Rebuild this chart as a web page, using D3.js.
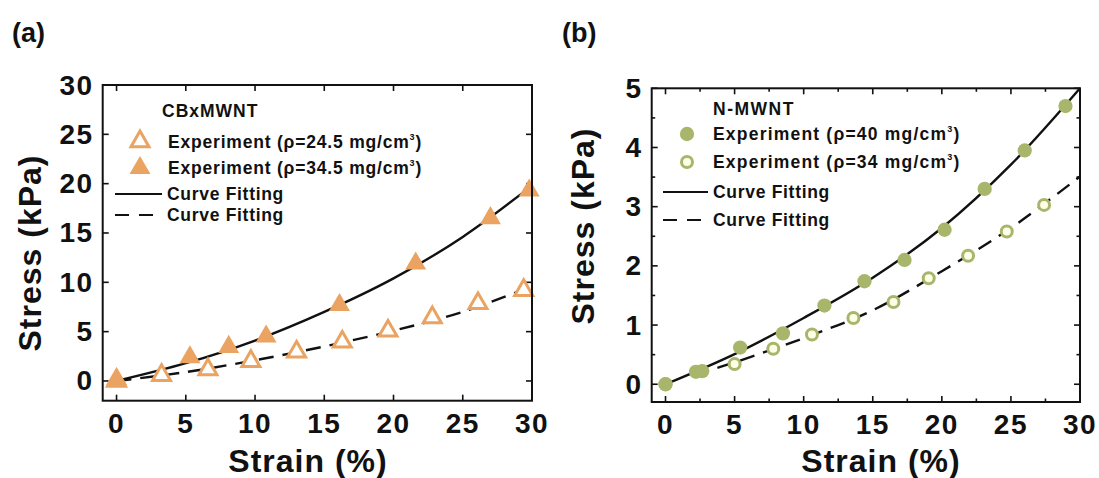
<!DOCTYPE html>
<html>
<head>
<meta charset="utf-8">
<script src="https://cdn.jsdelivr.net/npm/d3@7"></script>
<style>
  body { margin: 0; background: #fff; }
  text { font-family: "Liberation Sans", Arial, sans-serif; font-weight: bold; fill: #111; }
</style>
</head>
<body>
<div id="chart"></div>
<script>
// ---- data ----
// (a) CBxMWNT
var strainA245 = [0, 3.25, 6.6, 9.7, 13.0, 16.3, 19.6, 22.8, 26.1, 29.4];
var stressA245 = [0, 0.58, 1.15, 2.0, 2.95, 3.96, 5.08, 6.44, 7.86, 9.2];
var strainA345 = [0, 5.3, 8.1, 10.8, 16.1, 21.6, 27.0, 29.8];
var stressA345 = [0.2, 2.4, 3.45, 4.5, 7.7, 11.9, 16.5, 19.3];
var fitStrainA = [0, 5, 10, 15, 20, 25, 30];
var fitSolidA = [0, 1.8, 4.1, 7.0, 10.4, 14.6, 19.8];
var fitDashA = [0, 0.9, 2.1, 3.5, 5.1, 7.0, 9.6];

// (b) N-MWNT
var strainB40 = [0, 2.2, 2.65, 5.4, 8.5, 11.5, 14.4, 17.3, 20.2, 23.1, 26.0, 28.95];
var stressB40 = [0, 0.21, 0.22, 0.62, 0.86, 1.33, 1.74, 2.1, 2.61, 3.3, 3.95, 4.7];
var strainB34 = [0, 5.0, 7.8, 10.6, 13.6, 16.5, 19.05, 21.9, 24.7, 27.4];
var stressB34 = [0, 0.34, 0.6, 0.84, 1.12, 1.39, 1.79, 2.17, 2.58, 3.03];
var fitStrainB = [0, 5, 10, 15, 20, 25, 30];
var fitSolidB = [0, 0.51, 1.12, 1.8, 2.64, 3.71, 5.0];
var fitDashStrainB = [2.1, 5, 10, 15, 20, 25, 30];
var fitDashB = [0.16, 0.37, 0.78, 1.25, 1.91, 2.64, 3.51];

var orange = "#eaa361",
    olive = "#a8b66c";

var svg = d3.select("#chart")
    .append("svg")
    .attr("width", 1099)
    .attr("height", 478);

function zip(xs, ys) {
    return xs.map(function(x, i) { return [x, ys[i]]; });
}

function drawPanel(p) {
    var x = d3.scaleLinear().domain(p.xDomain).range([p.left, p.right]);
    var y = d3.scaleLinear().domain(p.yDomain).range([p.bottom, p.top]);
    var g = svg.append("g");

    // ticks on all four sides, pointing inward
    function tickSet(values, len, axis) {
        values.forEach(function(v) {
            if (axis == "x") {
                g.append("line").attr("x1", x(v)).attr("x2", x(v)).attr("y1", p.bottom).attr("y2", p.bottom - len);
                g.append("line").attr("x1", x(v)).attr("x2", x(v)).attr("y1", p.top).attr("y2", p.top + len);
            } else {
                g.append("line").attr("y1", y(v)).attr("y2", y(v)).attr("x1", p.left).attr("x2", p.left + len);
                g.append("line").attr("y1", y(v)).attr("y2", y(v)).attr("x1", p.right).attr("x2", p.right - len);
            }
        });
    }
    g.attr("stroke", "#111").attr("stroke-width", 1.6);
    tickSet(p.xTicks, 6, "x");
    tickSet(p.yTicks, 6, "y");
    tickSet(p.xMinor, 3.5, "x");
    tickSet(p.yMinor, 3.5, "y");

    // tick labels
    svg.append("g").selectAll("text").data(p.xTicks).enter().append("text")
        .attr("x", d => x(d)).attr("y", p.bottom + 32)
        .attr("text-anchor", "middle").style("font-size", "28px").style("letter-spacing", "1.5px")
        .text(d => d);
    svg.append("g").selectAll("text").data(p.yTicks).enter().append("text")
        .attr("x", p.left - 9).attr("y", d => y(d) + 9.5)
        .attr("text-anchor", "end").style("font-size", "28px").style("letter-spacing", "1.5px")
        .text(d => d);

    // fitting curves
    var line = d3.line().x(d => x(d[0])).y(d => y(d[1])).curve(d3.curveCatmullRom);
    svg.append("path").datum(p.fitSolid).attr("d", line)
        .attr("fill", "none").attr("stroke", "#111").attr("stroke-width", 2.4);
    svg.append("path").datum(p.fitDash).attr("d", line)
        .attr("fill", "none").attr("stroke", "#111").attr("stroke-width", 2.4)
        .attr("stroke-dasharray", "15,9");

    // markers
    p.series.forEach(function(s) {
        var sym = d3.symbol().type(s.shape).size(s.size);
        svg.append("g").selectAll("path").data(s.pts).enter().append("path")
            .attr("d", sym)
            .attr("transform", d => "translate(" + x(d[0]) + "," + y(d[1]) + ")")
            .attr("fill", s.open ? s.inner : s.color)
            .attr("stroke", s.color)
            .attr("stroke-width", s.open ? 3 : 0);
    });

    // frame
    svg.append("rect")
        .attr("x", p.left).attr("y", p.top)
        .attr("width", p.right - p.left).attr("height", p.bottom - p.top)
        .attr("fill", "none").attr("stroke", "#111").attr("stroke-width", 2);

    // axis titles and panel tag
    svg.append("text")
        .attr("x", p.xLabelX).attr("y", 472)
        .attr("text-anchor", "middle").style("font-size", "32px").style("letter-spacing", "1px")
        .text("Strain (%)");
    svg.append("text")
        .attr("transform", "translate(" + p.yLabelX + "," + p.yLabelY + ")rotate(-90)")
        .attr("text-anchor", "middle").style("font-size", "32px").style("letter-spacing", "1px")
        .text("Stress (kPa)");
    svg.append("text")
        .attr("x", p.tagX).attr("y", 42)
        .style("font-size", "27px")
        .text(p.tag);

    // legend
    var lg = p.legend;
    svg.append("text")
        .attr("x", lg.titleX).attr("y", lg.titleY)
        .style("font-size", "17.5px").style("letter-spacing", lg.titleSpacing + "px")
        .text(lg.title);
    lg.rows.forEach(function(r) {
        if (r.series) {
            var s = r.series;
            svg.append("path")
                .attr("d", d3.symbol().type(s.shape).size(s.size))
                .attr("transform", "translate(" + lg.markerX + "," + r.y + ")")
                .attr("fill", s.open ? s.inner : s.color)
                .attr("stroke", s.color)
                .attr("stroke-width", s.open ? 3 : 0);
        } else {
            svg.append("line")
                .attr("x1", lg.lineX1).attr("x2", lg.lineX2)
                .attr("y1", r.y).attr("y2", r.y)
                .attr("stroke", "#111").attr("stroke-width", 2)
                .attr("stroke-dasharray", r.dashed ? "14,10" : null);
        }
        var t = svg.append("text")
            .attr("x", r.series ? lg.textX : lg.lineTextX).attr("y", r.y + 6)
            .style("font-size", "17.5px")
            .style("letter-spacing", (r.spacing || 0.8) + "px");
        if (r.sup) {
            t.append("tspan").text(r.label);
            t.append("tspan").attr("dy", -8).style("font-size", "9px").text("3");
            t.append("tspan").attr("dy", 8).text(")");
        } else {
            t.text(r.label);
        }
    });
}

var triOpen = { shape: d3.symbolTriangle, size: 140, color: orange, open: true, inner: "#fff" };
var triFull = { shape: d3.symbolTriangle, size: 190, color: orange, open: false };
var dotFull = { shape: d3.symbolCircle, size: 160, color: olive, open: false };
var dotOpen = { shape: d3.symbolCircle, size: 95, color: olive, open: true, inner: "#fffde6" };

drawPanel({
    tag: "(a)", tagX: 12,
    left: 102.7, right: 532, top: 85, bottom: 400.7,
    xDomain: [-1, 30], yDomain: [-2, 30],
    xTicks: [0, 5, 10, 15, 20, 25, 30], yTicks: [0, 5, 10, 15, 20, 25, 30],
    xMinor: [], yMinor: [],
    xLabelX: 308, yLabelX: 41, yLabelY: 253,
    fitSolid: zip(fitStrainA, fitSolidA),
    fitDash: zip(fitStrainA, fitDashA),
    series: [
        Object.assign({ pts: zip(strainA245, stressA245) }, triOpen),
        Object.assign({ pts: zip(strainA345, stressA345) }, triFull)
    ],
    legend: {
        title: "CBxMWNT", titleX: 162, titleY: 117, titleSpacing: 1,
        markerX: 140, textX: 168, lineX1: 115, lineX2: 162, lineTextX: 167,
        rows: [
            { series: triOpen, y: 141.5, label: "Experiment (\u03c1=24.5 mg/cm", sup: true },
            { series: triFull, y: 168, label: "Experiment (\u03c1=34.5 mg/cm", sup: true },
            { y: 194, label: "Curve Fitting", spacing: 0.7 },
            { y: 215, label: "Curve Fitting", dashed: true, spacing: 0.7 }
        ]
    }
});

drawPanel({
    tag: "(b)", tagX: 562,
    left: 651.7, right: 1080, top: 88.3, bottom: 402,
    xDomain: [-1, 30], yDomain: [-0.3, 5],
    xTicks: [0, 5, 10, 15, 20, 25, 30], yTicks: [0, 1, 2, 3, 4, 5],
    xMinor: [2.5, 7.5, 12.5, 17.5, 22.5, 27.5], yMinor: [0.5, 1.5, 2.5, 3.5, 4.5],
    xLabelX: 881, yLabelX: 594, yLabelY: 226,
    fitSolid: zip(fitStrainB, fitSolidB),
    fitDash: zip(fitDashStrainB, fitDashB),
    series: [
        Object.assign({ pts: zip(strainB34, stressB34) }, dotOpen),
        Object.assign({ pts: zip(strainB40, stressB40) }, dotFull)
    ],
    legend: {
        title: "N-MWNT", titleX: 713, titleY: 115, titleSpacing: 1.5,
        markerX: 687, textX: 713, lineX1: 663, lineX2: 708, lineTextX: 713,
        rows: [
            { series: dotFull, y: 134, label: "Experiment  (\u03c1=40 mg/cm", sup: true, spacing: 1.2 },
            { series: dotOpen, y: 162, label: "Experiment  (\u03c1=34 mg/cm", sup: true, spacing: 1.2 },
            { y: 192, label: "Curve Fitting", spacing: 0.7 },
            { y: 220, label: "Curve Fitting", dashed: true, spacing: 0.7 }
        ]
    }
});
</script>
</body>
</html>
